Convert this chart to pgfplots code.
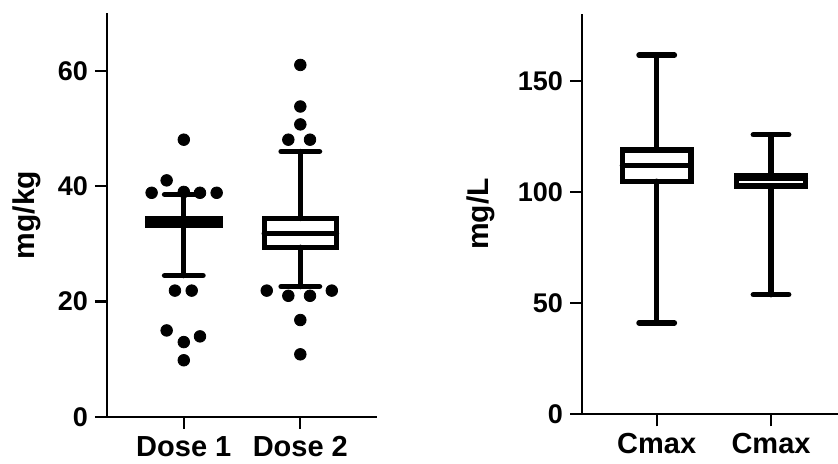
\documentclass[border=0pt]{standalone}
\usepackage{fontspec}
\setmainfont{Liberation Sans}
\usepackage{pgfplots}
\pgfplotsset{compat=1.18}
\usepgfplotslibrary{statistics}
\pgfplotsset{
  mystyle/.style={
    scale only axis,
    axis x line*=bottom, axis y line*=left,
    axis line style={line width=1.1pt, black},
    tick style={line width=1.1pt, black},
    major tick length=6pt,
    tick align=outside,
    xtick={1,2},
    ymin=0,
    clip=false,
    /pgf/number format/assume math mode=true,
    yticklabel style={font=\fontsize{13.5}{16}\selectfont\bfseries},
    xticklabel style={font=\fontsize{14.5}{17}\selectfont\bfseries},
    boxplot/draw direction=y,
    boxplot/box extend=0.62,
    boxplot/whisker extend=0.33,
  },
  bx/.style={draw=black, line width=2.7pt, line cap=round},
  outl/.style={black, only marks, mark=*, mark size=2.9pt, mark options={fill=black, draw=black}},
}
\begin{document}
\begin{tikzpicture}
\useasboundingbox (0,0) rectangle (419pt,232pt);
% Left panel
\begin{axis}[mystyle,
  at={(53.5pt,23.5pt)}, anchor=south west,
  width=135pt, height=202pt,
  xmin=0.341, xmax=2.658, ymax=70,
  ytick={0,20,40,60},
  xticklabels={Dose 1,Dose 2},
  ylabel={mg/kg},
  every axis y label/.style={at={(axis description cs:-0.296,0.5)}, rotate=90, anchor=center, font=\fontsize{15}{18}\selectfont\bfseries},
]
\addplot+[bx, boxplot prepared={draw position=1,
  lower whisker=24.5, lower quartile=33.3, median=33.8,
  upper quartile=34.3, upper whisker=38.57}] coordinates {};
\addplot+[bx, boxplot prepared={draw position=2,
  lower whisker=22.6, lower quartile=29.4, median=31.8,
  upper quartile=34.4, upper whisker=46.0}] coordinates {};
\addplot[outl] coordinates {
  (1.0,48.05) (0.853,41.0) (0.724,38.85) (1.0,39.0) (1.139,38.85) (1.282,38.85)
  (0.924,21.9) (1.068,21.9) (0.853,15.0) (1.139,13.97) (1.0,12.98) (1.0,9.83)
};
\addplot[outl] coordinates {
  (2.0,61.0) (2.0,53.8) (2.0,50.7) (1.897,48.05) (2.083,48.05)
  (1.712,21.9) (1.897,21.0) (2.083,21.0) (2.27,21.9) (2.0,16.8) (2.0,10.86)
};
\end{axis}
% Right panel
\begin{axis}[mystyle,
  at={(291pt,24.85pt)}, anchor=south west,
  width=128pt, height=200.15pt,
  xmin=0.3465, xmax=2.586, ymax=180,
  ytick={0,50,100,150},
  xticklabels={Cmax,Cmax},
  ylabel={mg/L},
  every axis y label/.style={at={(axis description cs:-0.395,0.5)}, rotate=90, anchor=center, font=\fontsize{15}{18}\selectfont\bfseries},
  boxplot/box extend=0.6,
  boxplot/whisker extend=0.31,
]
\addplot+[bx, boxplot prepared={draw position=1,
  lower whisker=41.1, lower quartile=104.8, median=111.8,
  upper quartile=118.9, upper whisker=161.5}] coordinates {};
\addplot+[bx, boxplot prepared={draw position=2,
  lower whisker=53.8, lower quartile=102.6, median=105.9,
  upper quartile=107.1, upper whisker=125.7}] coordinates {};
\end{axis}
\end{tikzpicture}
\end{document}
